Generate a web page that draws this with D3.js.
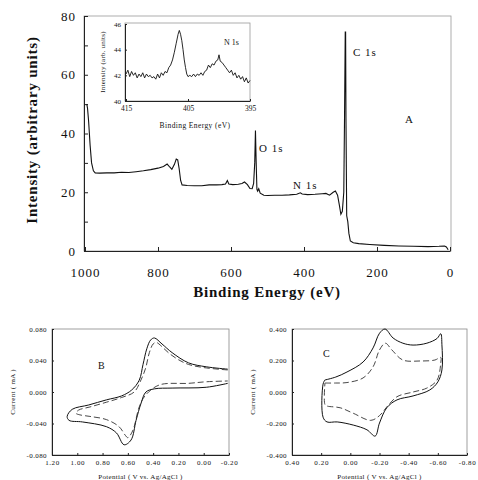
<!DOCTYPE html>
<html>
<head>
<meta charset="utf-8">
<script src="https://cdn.jsdelivr.net/npm/d3@7"></script>
<style>
  body { margin: 0; background: #fff; }
  svg text { font-family: "Liberation Serif", "DejaVu Serif", serif; fill: #111; }
  .axis path, .axis line { stroke: #222; }
</style>
</head>
<body>
<div id="chart"></div>
<script>
// survey spectrum (A): [binding energy eV, intensity]
const survey = [
  [995, 50], [993, 48.5], [990, 44], [986, 36], [982, 30], [977, 27.3], [972, 26.6], [960, 26.5],
  [940, 26.6], [920, 26.6], [900, 26.8], [880, 26.7], [860, 27.0], [840, 27.3], [820, 27.7],
  [800, 28.2], [785, 28.8], [775, 29.6], [768, 28.6], [762, 27.8], [755, 29.5], [750, 31.3],
  [746, 31.0], [742, 28.0], [738, 24.0], [734, 22.5], [720, 22.3], [700, 22.2], [680, 22.2],
  [660, 22.5], [640, 22.5], [625, 22.6], [615, 22.8], [610, 24.0], [606, 22.8], [595, 22.6],
  [580, 22.7], [570, 23.0], [563, 23.5], [555, 22.6], [548, 21.3], [542, 21.2], [538, 23.0],
  [535, 30], [533, 41], [531, 30], [529, 21], [527, 20.4], [524, 21.2], [520, 19.7],
  [510, 19.0], [500, 18.9], [480, 19.0], [460, 19.0], [440, 19.1], [420, 19.3], [410, 19.8],
  [405, 19.4], [390, 19.2], [370, 19.3], [350, 19.5], [340, 19.6], [330, 19.0], [320, 20.0],
  [314, 20.4], [308, 19.0], [303, 15.5], [299, 12.5], [295, 13.5], [291, 20], [289, 45],
  [287, 74.5], [286, 74.5], [285, 45], [283, 12], [280, 10], [277, 6], [273, 3.4],
  [265, 2.8], [250, 2.5], [220, 2.2], [180, 1.9], [140, 1.7], [100, 1.6], [60, 1.5],
  [30, 1.6], [15, 1.7], [10, 1.4], [5, 0.4]
];
const surveyXTicks = [1000, 800, 600, 400, 200, 0];
const surveyYTicks = [0, 20, 40, 60, 80];

// inset N 1s region: [binding energy eV, intensity]
const n1s = [
  [415.0, 42.1], [414.7, 42.4], [414.4, 41.9], [414.1, 42.3], [413.8, 42.0], [413.5, 42.2],
  [413.2, 41.8], [412.9, 42.1], [412.6, 41.9], [412.3, 42.2], [412.0, 41.8], [411.7, 42.1],
  [411.4, 41.9], [411.1, 42.0], [410.8, 41.8], [410.5, 41.9], [410.2, 41.7], [409.9, 42.1],
  [409.6, 41.8], [409.3, 42.2], [409.0, 42.0], [408.7, 42.3], [408.4, 42.2], [408.1, 42.6],
  [407.8, 42.8], [407.5, 43.2], [407.2, 43.8], [406.9, 44.5], [406.6, 45.2], [406.4, 45.5],
  [406.2, 45.2], [406.0, 44.7], [405.8, 44.0], [405.6, 43.2], [405.4, 42.6], [405.2, 42.1],
  [405.0, 41.9], [404.7, 42.0], [404.4, 41.9], [404.1, 42.1], [403.8, 41.9], [403.5, 42.1],
  [403.2, 42.0], [402.9, 42.2], [402.6, 42.0], [402.3, 42.3], [402.0, 42.4], [401.7, 42.8],
  [401.4, 42.6], [401.1, 42.9], [400.8, 42.8], [400.5, 43.1], [400.2, 43.2], [400.0, 43.6],
  [399.8, 43.1], [399.5, 43.0], [399.2, 42.8], [398.9, 42.6], [398.6, 42.4], [398.3, 42.2],
  [398.0, 42.4], [397.7, 42.0], [397.4, 42.2], [397.1, 41.8], [396.8, 42.0], [396.5, 41.7],
  [396.2, 41.9], [395.9, 41.5], [395.6, 41.8], [395.3, 41.4], [395.0, 41.6]
];
const insetXTicks = [415, 405, 395];
const insetYTicks = [40, 42, 44, 46];

// cyclic voltammograms: [potential V, current mA]
const cvBSolid = [
  [-0.19, 0.029], [-0.02, 0.032], [0.12, 0.037], [0.25, 0.050], [0.33, 0.061], [0.39, 0.0686],
  [0.42, 0.066], [0.45, 0.055], [0.48, 0.035], [0.51, 0.015], [0.57, 0.0025], [0.65, -0.005],
  [0.77, -0.010], [0.91, -0.0165], [1.04, -0.022], [1.08, -0.031], [1.065, -0.036], [0.96, -0.038],
  [0.77, -0.044], [0.69, -0.052], [0.63, -0.067], [0.575, -0.061], [0.535, -0.036], [0.495, -0.014],
  [0.457, 0.0], [0.39, 0.004], [0.25, 0.005], [-0.02, 0.006], [-0.19, 0.011]
];
const cvBDashed = [
  [-0.19, 0.028], [0.0, 0.031], [0.12, 0.035], [0.2, 0.041], [0.28, 0.050], [0.34, 0.059],
  [0.375, 0.063], [0.40, 0.061], [0.43, 0.050], [0.46, 0.030], [0.50, 0.014], [0.55, 0.0],
  [0.65, -0.007], [0.77, -0.013], [0.9, -0.019], [0.99, -0.023], [1.01, -0.027], [0.98, -0.029],
  [0.9, -0.031], [0.77, -0.035], [0.67, -0.044], [0.62, -0.055], [0.60, -0.058], [0.57, -0.052],
  [0.55, -0.044], [0.51, -0.019], [0.46, -0.004], [0.35, 0.009], [0.12, 0.011], [-0.02, 0.013],
  [-0.19, 0.014]
];
const cvCSolid = [
  [0.175, 0.076], [0.10, 0.095], [0.023, 0.127], [-0.087, 0.19], [-0.156, 0.28], [-0.20, 0.373],
  [-0.238, 0.40], [-0.293, 0.343], [-0.36, 0.31], [-0.43, 0.298], [-0.525, 0.31], [-0.595, 0.34],
  [-0.62, 0.37], [-0.628, 0.30], [-0.628, 0.14], [-0.60, 0.064], [-0.545, 0.013], [-0.43, -0.025],
  [-0.32, -0.05], [-0.25, -0.10], [-0.20, -0.197], [-0.17, -0.28], [-0.114, -0.24], [-0.02, -0.21],
  [0.09, -0.19], [0.16, -0.19], [0.187, -0.16], [0.187, 0.05], [0.175, 0.076]
];
const cvCDashed = [
  [0.174, 0.057], [0.10, 0.057], [0.023, 0.06], [-0.087, 0.089], [-0.156, 0.16], [-0.2, 0.267],
  [-0.24, 0.31], [-0.285, 0.267], [-0.36, 0.203], [-0.478, 0.197], [-0.58, 0.203], [-0.62, 0.22],
  [-0.62, 0.184], [-0.595, 0.076], [-0.525, 0.025], [-0.43, 0.0], [-0.32, -0.03], [-0.25, -0.095],
  [-0.2, -0.15], [-0.14, -0.18], [-0.02, -0.135], [0.07, -0.10], [0.16, -0.089], [0.174, -0.08],
  [0.174, 0.057]
];
const cvBXTicks = [1.2, 1.0, 0.8, 0.6, 0.4, 0.2, 0.0, -0.2];
const cvBYTicks = [-0.08, -0.04, 0.0, 0.04, 0.08];
const cvCXTicks = [0.4, 0.2, 0.0, -0.2, -0.4, -0.6, -0.8];
const cvCYTicks = [-0.4, -0.2, 0.0, 0.2, 0.4];

const width = 478, height = 480;

// plain hyphen minus, no thousands separator
const fmt = spec => d => d3.format(spec)(d).replace("\u2212", "-");

const svg = d3.select("#chart")
  .append("svg")
  .attr("width", width)
  .attr("height", height);

svg.append("rect").attr("width", width).attr("height", height).attr("fill", "#fff");

// ---------- main survey panel ----------
const x = d3.scaleLinear().domain([1000, 0]).range([85, 450]);
const y = d3.scaleLinear().domain([0, 80]).range([251, 16]);

// frame
svg.append("rect")
  .attr("x", 84).attr("y", 16).attr("width", 367).attr("height", 235)
  .attr("fill", "none").attr("stroke", "#999").attr("stroke-width", 0.8);

svg.append("g")
  .attr("class", "axis")
  .attr("transform", "translate(0,251)")
  .call(d3.axisBottom(x).tickValues(surveyXTicks).tickSizeInner(-4).tickSizeOuter(0).tickPadding(17)
    .tickFormat(fmt("d")))
  .call(g => g.selectAll("text").attr("font-size", 13).attr("letter-spacing", 1));

svg.append("g")
  .attr("class", "axis")
  .attr("transform", "translate(84,0)")
  .call(d3.axisLeft(y).tickValues(d3.range(0, 81, 10)).tickSizeInner(-4).tickSizeOuter(0).tickPadding(8)
    .tickFormat(d => surveyYTicks.includes(d) ? d : ""))
  .call(g => g.selectAll("text").attr("font-size", 13).attr("letter-spacing", 1));

svg.append("path")
  .datum(survey)
  .attr("fill", "none")
  .attr("stroke", "#111")
  .attr("stroke-width", 1.1)
  .attr("d", d3.line().x(d => x(d[0])).y(d => y(d[1])));

svg.append("text")
  .attr("x", 267).attr("y", 297)
  .attr("text-anchor", "middle")
  .attr("font-size", 15).attr("font-weight", "bold").attr("letter-spacing", 0.8)
  .text("Binding Energy (eV)");

svg.append("text")
  .attr("transform", "rotate(-90)")
  .attr("x", -130).attr("y", 37)
  .attr("text-anchor", "middle")
  .attr("font-size", 15).attr("font-weight", "bold").attr("letter-spacing", 0.8)
  .text("Intensity (arbitrary units)");

const peakLabels = [
  { t: "C 1s", x: 353, y: 56 },
  { t: "O 1s", x: 259, y: 152 },
  { t: "N 1s", x: 293, y: 189 },
  { t: "A", x: 405, y: 123 }
];
svg.selectAll(".peakLabel")
  .data(peakLabels)
  .enter()
  .append("text")
  .attr("class", "peakLabel")
  .attr("x", d => d.x).attr("y", d => d.y)
  .attr("font-size", 11).attr("letter-spacing", 1)
  .text(d => d.t);

// ---------- inset ----------
const ix = d3.scaleLinear().domain([415, 395]).range([126, 250]);
const iy = d3.scaleLinear().domain([40, 46]).range([101, 24]);

svg.append("rect")
  .attr("x", 125).attr("y", 23).attr("width", 125).attr("height", 78)
  .attr("fill", "#fff").attr("stroke", "#999").attr("stroke-width", 0.8);

svg.append("g")
  .attr("class", "axis")
  .attr("transform", "translate(0,101)")
  .call(d3.axisBottom(ix).tickValues(insetXTicks).tickSizeInner(-2).tickSizeOuter(0).tickPadding(5)
    .tickFormat(fmt("d")))
  .call(g => g.select(".domain").attr("stroke", "#777"))
  .call(g => g.selectAll("text").attr("font-size", 7.5));

svg.append("g")
  .attr("class", "axis")
  .attr("transform", "translate(125,0)")
  .call(d3.axisLeft(iy).tickValues(insetYTicks).tickSizeInner(-2).tickSizeOuter(0).tickPadding(4)
    .tickFormat(fmt("d")))
  .call(g => g.select(".domain").attr("stroke", "#777"))
  .call(g => g.selectAll("text").attr("font-size", 7));

svg.append("path")
  .datum(n1s)
  .attr("fill", "none")
  .attr("stroke", "#111")
  .attr("stroke-width", 0.9)
  .attr("d", d3.line().x(d => ix(d[0])).y(d => iy(d[1])));

svg.append("text")
  .attr("x", 195).attr("y", 128)
  .attr("text-anchor", "middle")
  .attr("font-size", 7.5).attr("letter-spacing", 0.4)
  .text("Binding Energy (eV)");

svg.append("text")
  .attr("transform", "rotate(-90)")
  .attr("x", -62).attr("y", 105)
  .attr("text-anchor", "middle")
  .attr("font-size", 7).attr("letter-spacing", 0.2)
  .text("Intensity (arb. units)");

svg.append("text")
  .attr("x", 224).attr("y", 45)
  .attr("font-size", 8)
  .text("N 1s");

// ---------- CV panels ----------
function cvPanel(opts) {
  const px = d3.scaleLinear().domain(opts.xDomain).range([opts.left, opts.right]);
  const py = d3.scaleLinear().domain(opts.yDomain).range([455, 329]);

  svg.append("rect")
    .attr("x", opts.left).attr("y", 329)
    .attr("width", opts.right - opts.left).attr("height", 126)
    .attr("fill", "none").attr("stroke", "#888").attr("stroke-width", 0.8);

  svg.append("g")
    .attr("class", "axis")
    .attr("transform", "translate(0,455)")
    .call(d3.axisBottom(px).tickValues(opts.xTicks).tickSizeInner(-2).tickSizeOuter(0).tickPadding(5)
      .tickFormat(fmt(".2f")))
    .call(g => g.select(".domain").attr("stroke", "#666"))
    .call(g => g.selectAll("text").attr("font-size", 7).attr("letter-spacing", 0.6));

  svg.append("g")
    .attr("class", "axis")
    .attr("transform", `translate(${opts.left},0)`)
    .call(d3.axisLeft(py).tickValues(opts.yTicks).tickSizeInner(-2).tickSizeOuter(0).tickPadding(5)
      .tickFormat(fmt(".3f")))
    .call(g => g.select(".domain").attr("stroke", "#666"))
    .call(g => g.selectAll("text").attr("font-size", 7).attr("letter-spacing", 0.4));

  const line = d3.line().curve(d3.curveCatmullRom.alpha(0.5)).x(d => px(d[0])).y(d => py(d[1]));

  svg.append("path")
    .datum(opts.solid)
    .attr("fill", "none").attr("stroke", "#111").attr("stroke-width", 1)
    .attr("d", line);

  svg.append("path")
    .datum(opts.dashed)
    .attr("fill", "none").attr("stroke", "#333").attr("stroke-width", 0.9)
    .attr("stroke-dasharray", "6,3")
    .attr("d", line);

  svg.append("text")
    .attr("x", (opts.left + opts.right) / 2).attr("y", 479)
    .attr("text-anchor", "middle")
    .attr("font-size", 7).attr("letter-spacing", 0.3)
    .text("Potential ( V vs. Ag/AgCl )");

  svg.append("text")
    .attr("transform", "rotate(-90)")
    .attr("x", -392).attr("y", opts.left - 37)
    .attr("text-anchor", "middle")
    .attr("font-size", 7).attr("letter-spacing", 0.3)
    .text("Current ( mA )");

  svg.append("text")
    .attr("x", opts.label.x).attr("y", opts.label.y)
    .attr("font-size", 10)
    .text(opts.label.t);
}

cvPanel({
  xDomain: [1.2, -0.2], yDomain: [-0.08, 0.08], left: 52, right: 229,
  xTicks: cvBXTicks, yTicks: cvBYTicks, solid: cvBSolid, dashed: cvBDashed,
  label: { t: "B", x: 98, y: 369 }
});

cvPanel({
  xDomain: [0.4, -0.8], yDomain: [-0.4, 0.4], left: 292, right: 467,
  xTicks: cvCXTicks, yTicks: cvCYTicks, solid: cvCSolid, dashed: cvCDashed,
  label: { t: "C", x: 323, y: 357 }
});
</script>
</body>
</html>
